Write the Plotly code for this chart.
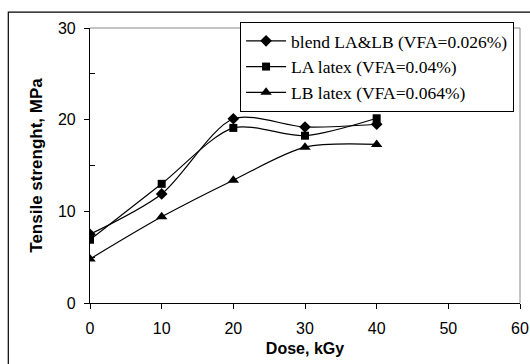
import plotly.graph_objects as go

dose = [0, 10, 20, 30, 40]
blend = [7.5, 11.9, 20.1, 19.2, 19.5]
la = [6.9, 13.0, 19.1, 18.25, 20.15]
lb = [4.8, 9.4, 13.4, 17.0, 17.3]
names = ["blend LA&LB (VFA=0.026%)", "LA latex (VFA=0.04%)", "LB latex (VFA=0.064%)"]
symbols = ["diamond", "square", "triangle-up"]
sizes = [9, 8, 10]

fig = go.Figure()
for ys, nm, sy, sz in zip([blend, la, lb], names, symbols, sizes):
    fig.add_trace(go.Scatter(
        x=dose, y=ys, name=nm, mode="lines+markers",
        line=dict(color="black", width=1.2, shape="spline", smoothing=0.8),
        marker=dict(symbol=sy, size=sz, color="black"),
    ))

axfont = dict(family="Liberation Sans, Arial", size=16, color="black")
fig.update_layout(
    width=530, height=364,
    margin=dict(l=90, r=10, t=28, b=61),
    paper_bgcolor="white", plot_bgcolor="white",
    showlegend=True,
    legend=dict(
        x=0.349, y=1.022, xanchor="left", yanchor="top",
        bordercolor="black", borderwidth=1, bgcolor="white",
        font=dict(family="Liberation Serif, Times New Roman", size=17.5, color="black"),
        itemwidth=40, tracegroupgap=0,
    ),
    xaxis=dict(
        range=[0, 60], tickvals=[0, 10, 20, 30, 40, 50, 60],
        showline=True, linecolor="black", linewidth=1.2,
        ticks="outside", ticklen=5, tickcolor="black", ticklabelstandoff=6,
        showgrid=False, zeroline=False, tickfont=axfont, automargin=False,
        title=dict(text="<b>Dose, kGy</b>", font=dict(family="Liberation Sans, Arial", size=16, color="black"), standoff=6),
    ),
    yaxis=dict(
        range=[0, 30], tickvals=[0, 10, 20, 30],
        showline=True, linecolor="black", linewidth=1.2,
        ticks="outside", ticklen=5, tickcolor="black", ticklabelstandoff=5,
        minor=dict(tickvals=[5, 15, 25], ticks="inside", ticklen=5, tickcolor="black"),
        showgrid=False, zeroline=False, tickfont=axfont, automargin=False,
        title=dict(text="<b>Tensile strenght, MPa</b>", font=dict(family="Liberation Sans, Arial", size=17, color="black"), standoff=10),
    ),
    shapes=[
        dict(type="line", xref="paper", yref="paper", x0=0, x1=1, y0=1, y1=1, line=dict(color="#888888", width=1)),
        dict(type="line", xref="paper", yref="paper", x0=1, x1=1, y0=0, y1=1, line=dict(color="#888888", width=1)),
        dict(type="rect", xref="paper", yref="paper", x0=-0.19, x1=1.2, y0=-0.4, y1=1.058, line=dict(color="black", width=1.2), layer="below"),
    ],
)

fig.write_html("out.html", config={"displayModeBar": False},
               post_script="document.body.style.margin='0';document.body.style.overflow='hidden';")
